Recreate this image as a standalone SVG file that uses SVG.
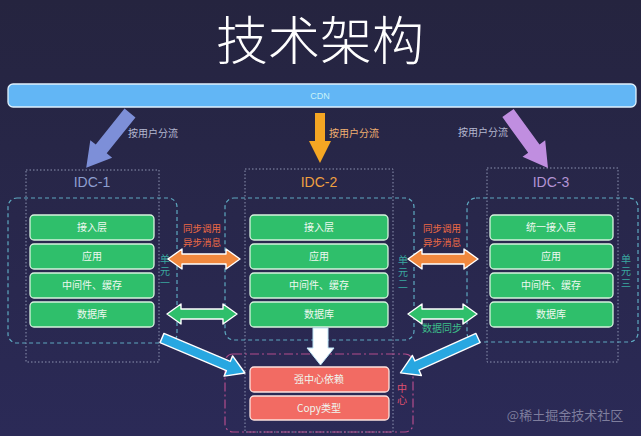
<svg xmlns="http://www.w3.org/2000/svg" width="641" height="436" viewBox="0 0 641 436">
<defs>
<linearGradient id="bg" x1="0" y1="0" x2="0" y2="1">
<stop offset="0" stop-color="#25243f"/>
<stop offset="1" stop-color="#2b2a57"/>
</linearGradient>
<style>
.cjk{font-family:"Noto Sans CJK SC","Noto Sans",sans-serif;}
.lat{font-family:"Liberation Sans","DejaVu Sans",sans-serif;}
.green{fill:#2fbf6b;stroke:#d6f3de;stroke-width:1.3;}
.red{fill:#f26b63;stroke:#fde2de;stroke-width:1.3;}
.bt{font-size:10px;fill:#eef8f0;text-anchor:middle;}
.unit{fill:none;stroke:#5ea8c0;stroke-width:1.2;stroke-dasharray:4 3;}
.idc{fill:none;stroke:#8c93b0;stroke-width:1;stroke-dasharray:1.5 2;}
.vl{font-size:10px;writing-mode:vertical-rl;letter-spacing:2px;}
.flow{font-size:10px;}
.sync{font-size:9.5px;fill:#ee6a45;text-anchor:middle;}
.wo{stroke:#ffffff;stroke-width:1.4;stroke-linejoin:round;}
</style>
</defs>
<rect x="0" y="0" width="641" height="436" fill="url(#bg)"/>
<text class="cjk" x="320" y="60" font-size="52" font-weight="300" fill="#ffffff" text-anchor="middle">技术架构</text>

<g id="cdn">
<rect x="8" y="84" width="628" height="23" rx="5" fill="#62b6f5" stroke="#dff1fd" stroke-width="1.3"/>
<text class="lat" x="320" y="99" font-size="9" fill="#c8f2f8" text-anchor="middle">CDN</text>
</g>

<g id="idc1">
<rect class="idc" x="26" y="170" width="133" height="192"/>
<text class="lat" x="92" y="187" font-size="14" fill="#8e9fd0" text-anchor="middle">IDC-1</text>
<rect class="unit" x="8" y="198" width="169" height="145" rx="9"/>
<rect class="green" x="30" y="215" width="124" height="25" rx="4"/>
<text class="cjk bt" x="92" y="231">接入层</text>
<rect class="green" x="30" y="244" width="124" height="25" rx="4"/>
<text class="cjk bt" x="92" y="260">应用</text>
<rect class="green" x="30" y="273" width="124" height="25" rx="4"/>
<text class="cjk bt" x="92" y="289">中间件、缓存</text>
<rect class="green" x="30" y="302" width="124" height="25" rx="4"/>
<text class="cjk bt" x="92" y="318">数据库</text>
<text class="cjk vl" x="165" y="254" fill="#3aa8a0">单元一</text>
</g>

<g id="idc2">
<rect class="idc" x="245" y="169" width="148" height="263"/>
<text class="lat" x="319" y="187" font-size="14" fill="#f0a040" text-anchor="middle">IDC-2</text>
<rect class="unit" x="225" y="198" width="189" height="142" rx="9"/>
<rect class="green" x="250" y="215" width="138" height="25" rx="4"/>
<text class="cjk bt" x="319" y="231">接入层</text>
<rect class="green" x="250" y="244" width="138" height="25" rx="4"/>
<text class="cjk bt" x="319" y="260">应用</text>
<rect class="green" x="250" y="273" width="138" height="25" rx="4"/>
<text class="cjk bt" x="319" y="289">中间件、缓存</text>
<rect class="green" x="250" y="302" width="138" height="25" rx="4"/>
<text class="cjk bt" x="319" y="318">数据库</text>
<text class="cjk vl" x="403" y="255" fill="#3aa8a0">单元二</text>
</g>

<g id="idc3">
<rect class="idc" x="487" y="168" width="131" height="194"/>
<text class="lat" x="551" y="187" font-size="14" fill="#b394d4" text-anchor="middle">IDC-3</text>
<rect class="unit" x="467" y="198" width="171" height="144" rx="9"/>
<rect class="green" x="490" y="215" width="123" height="25" rx="4"/>
<text class="cjk bt" x="551" y="231">统一接入层</text>
<rect class="green" x="490" y="244" width="123" height="25" rx="4"/>
<text class="cjk bt" x="551" y="260">应用</text>
<rect class="green" x="490" y="273" width="123" height="25" rx="4"/>
<text class="cjk bt" x="551" y="289">中间件、缓存</text>
<rect class="green" x="490" y="302" width="123" height="25" rx="4"/>
<text class="cjk bt" x="551" y="318">数据库</text>
<text class="cjk vl" x="626" y="254" fill="#3aa8a0">单元三</text>
</g>

<g id="center">
<rect x="225" y="354" width="188" height="78" rx="8" fill="none" stroke="#b24d8c" stroke-width="1.2" stroke-dasharray="9 3 2 3"/>
<rect class="red" x="250" y="367" width="139" height="25" rx="4"/>
<text class="cjk bt" x="319" y="383">强中心依赖</text>
<rect class="red" x="250" y="396" width="139" height="24" rx="4"/>
<text class="cjk bt" x="319" y="412">Copy类型</text>
<text class="cjk vl" x="402" y="383" fill="#e05070">中心</text>
</g>

<g id="connectors">
<polygon points="0,-7 46,-7 46,-14 70,0 46,14 46,7 0,7" fill="#7d8fd8" transform="translate(130,113) rotate(128.7)"/>
<text class="cjk flow" x="128" y="137" fill="#b4b8d0">按用户分流</text>
<polygon points="315,113 325,113 325,141 331,141 320,163 309,141 315,141" fill="#f5a623"/>
<text class="cjk flow" x="329" y="137" fill="#f0b070">按用户分流</text>
<polygon points="0,-7 44,-7 44,-14 68,0 44,14 44,7 0,7" fill="#c08ee0" transform="translate(508,113) rotate(54)"/>
<text class="cjk flow" x="458" y="136" fill="#b4b8d0">按用户分流</text>

<polygon class="wo" points="168,259 182,249 182,254 226,254 226,249 240,259 226,269 226,264 182,264 182,269" fill="#f0883e"/>
<polygon class="wo" points="167,314 181,304 181,309 223,309 223,304 237,314 223,324 223,319 181,319 181,324" fill="#2fbf6b"/>
<text class="cjk sync" x="202" y="232">同步调用</text>
<text class="cjk sync" x="202" y="246">异步消息</text>

<polygon class="wo" points="408,259 422,249 422,254 464,254 464,249 478,259 464,269 464,264 422,264 422,269" fill="#f0883e"/>
<polygon class="wo" points="408,314 422,304 422,309 463,309 463,304 477,314 463,324 463,319 422,319 422,324" fill="#2fbf6b"/>
<text class="cjk sync" x="442" y="232">同步调用</text>
<text class="cjk sync" x="442" y="246">异步消息</text>
<text class="cjk flow" x="442" y="332" fill="#3dbf8a" text-anchor="middle">数据同步</text>

<polygon points="313,328 328,328 328,348 334,348 320.5,365 307,348 313,348" fill="#ffffff" stroke="#bfe6f7" stroke-width="1"/>
<polygon class="wo" points="0,-5 72,-5 72,-11 90,0 72,11 72,5 0,5" fill="#28a7e1" transform="translate(162,338) rotate(22.9)"/>
<polygon class="wo" points="0,-5 67,-5 67,-11 85,0 67,11 67,5 0,5" fill="#28a7e1" transform="translate(478,338) rotate(155.8)"/>
</g>

<text class="cjk" x="565" y="420" font-size="13" fill="#9a9ab5" fill-opacity="0.75" text-anchor="middle">@稀土掘金技术社区</text>
</svg>
